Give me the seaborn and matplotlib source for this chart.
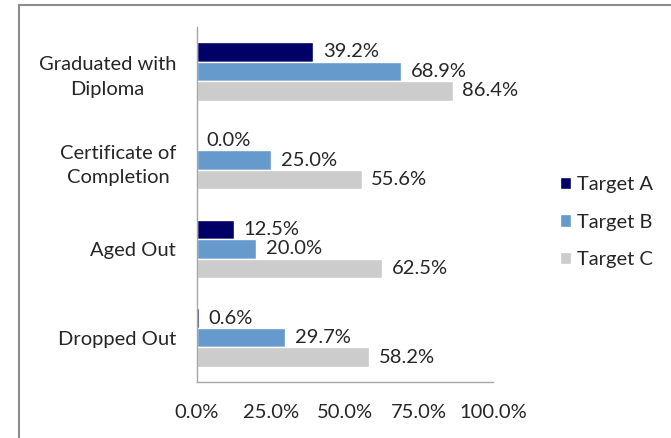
import pandas as pd
import matplotlib.pyplot as plt
import seaborn as sns
from matplotlib.patches import Rectangle

# outcome categories (top to bottom) and the three target series, in percent
outcomes = ["Graduated with\nDiploma", "Certificate of\nCompletion", "Aged Out", "Dropped Out"]
targets = ["Target A", "Target B", "Target C"]
target_a = [39.2, 0.0, 12.5, 0.6]
target_b = [68.9, 25.0, 20.0, 29.7]
target_c = [86.4, 55.6, 62.5, 58.2]

df = pd.DataFrame({
    "outcome": outcomes * 3,
    "target": [t for t in targets for _ in outcomes],
    "pct": target_a + target_b + target_c,
})

colors = ["#000066", "#6699cc", "#cccccc"]
text_color = "#262626"
fs = 14.5

sns.set_theme(style="white")
plt.rcParams["font.family"] = ["Lato", "DejaVu Sans"]

fig = plt.figure(figsize=(6.71, 4.38), dpi=100)
ax = fig.add_axes([0.2936, 0.1279, 0.4411, 0.8105])

sns.barplot(data=df, x="pct", y="outcome", hue="target", order=outcomes,
            hue_order=targets, palette=colors, width=0.66, orient="h",
            saturation=1, ax=ax, legend=True)

for cont in ax.containers:
    ax.bar_label(cont, fmt="%.1f%%", padding=7, fontsize=fs, color=text_color)

ax.set_xlim(0, 100)
ax.set_xticks([0, 25, 50, 75, 100])
ax.set_xticklabels([f"{v:.1f}%" for v in [0, 25, 50, 75, 100]])
ax.set_xlabel("")
ax.set_ylabel("")
ax.tick_params(axis="x", length=0, pad=16, labelsize=fs, labelcolor=text_color)
ax.tick_params(axis="y", length=0, pad=15, labelsize=fs, labelcolor=text_color)
for lab in ax.get_yticklabels():
    lab.set_horizontalalignment("right")
    lab.set_multialignment("center")
    lab.set_linespacing(1.55)

for side in ["top", "right"]:
    ax.spines[side].set_visible(False)
for side in ["left", "bottom"]:
    ax.spines[side].set_color("#a6a6a6")
    ax.spines[side].set_linewidth(1.0)

handles, labels = ax.get_legend_handles_labels()
ax.legend_.remove()
fig.legend(handles, labels, loc="center left", bbox_to_anchor=(0.832, 0.493),
           frameon=False, fontsize=fs, handlelength=0.55, handleheight=0.55,
           handletextpad=0.3, labelspacing=1.0, borderaxespad=0, borderpad=0.1,
           labelcolor=text_color)

# outer chart border (cropped on the right and bottom)
fig.patches.append(Rectangle((19 / 671, -0.05), 1.2, 1 - 5 / 438 + 0.05,
                             transform=fig.transFigure, fill=False,
                             edgecolor="#8c8c8c", linewidth=1.5))

fig.savefig("out.png", dpi=100)
